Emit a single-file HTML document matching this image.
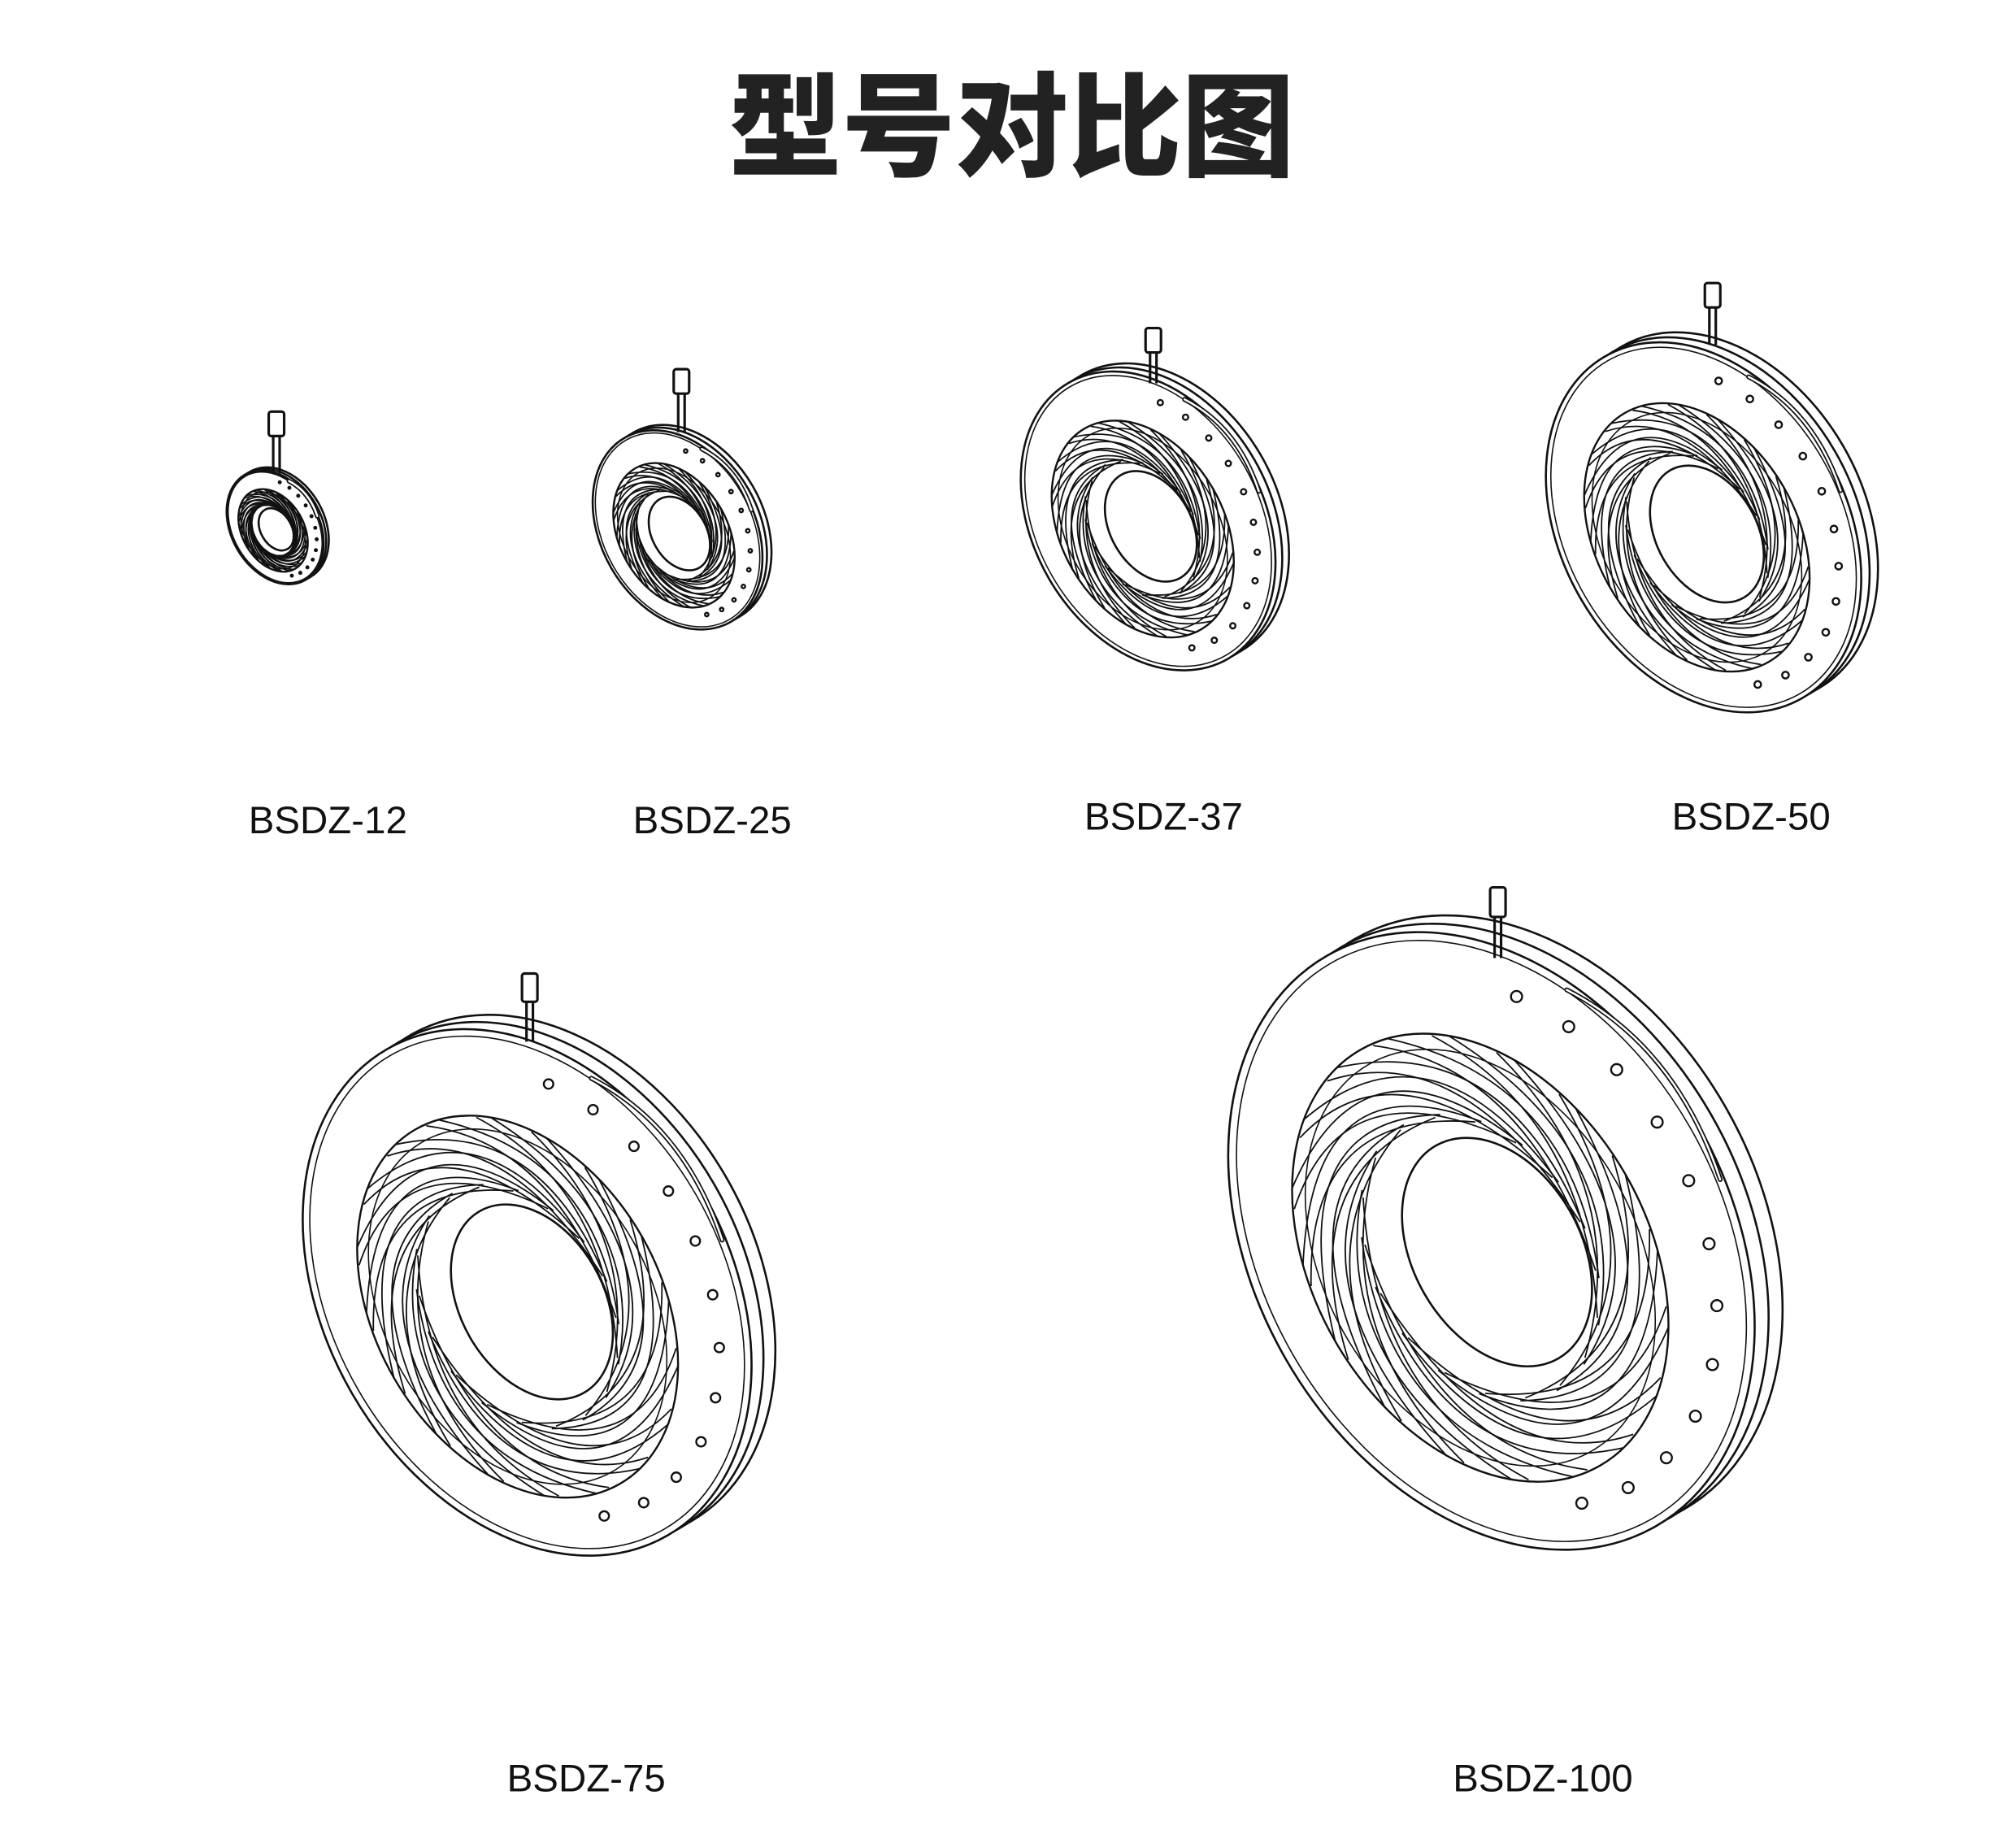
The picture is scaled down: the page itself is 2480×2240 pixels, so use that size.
<!DOCTYPE html>
<html><head><meta charset="utf-8"><style>
html,body{margin:0;padding:0;background:#fff}
svg{display:block}
</style></head><body>
<svg width="2480" height="2240" viewBox="0 0 1568 1416" xmlns="http://www.w3.org/2000/svg">
<defs>
<g id="blade" fill="none" stroke="#111" stroke-width="1.8">
<path d="M1,0 Q0.62,0.92 -0.22,0.6" vector-effect="non-scaling-stroke"/>
<path d="M0.96,0.25 Q0.45,0.9 -0.38,0.5" vector-effect="non-scaling-stroke"/>
</g>
<g id="dev" fill="none" stroke="#111" stroke-width="2.6">
  <g transform="translate(10,-6) rotate(-30)"><ellipse cx="0" cy="0" rx="85" ry="118" fill="#fff" vector-effect="non-scaling-stroke"/></g>
  <g transform="translate(5,-3) rotate(-30)"><ellipse cx="0" cy="0" rx="85" ry="118" fill="#fff" vector-effect="non-scaling-stroke"/></g>
  <g transform="rotate(-30)">
    <ellipse cx="0" cy="0" rx="85" ry="118" fill="#fff" vector-effect="non-scaling-stroke"/>
    <ellipse cx="0" cy="0" rx="82" ry="115" vector-effect="non-scaling-stroke" stroke-width="1.6"/>
  </g>
  <path d="M27,-90 Q66,-70 82,-22" stroke-width="6" stroke-linecap="round" vector-effect="non-scaling-stroke"/>
  <path d="M27,-90 Q66,-70 82,-22" stroke="#fff" stroke-width="2.5" stroke-linecap="round" vector-effect="non-scaling-stroke"/>
  <g transform="translate(-4,6) rotate(-30) scale(60,86)">
    <ellipse cx="0" cy="0" rx="1" ry="1" fill="#fff" stroke-width="2.4" vector-effect="non-scaling-stroke"/>
    <ellipse cx="0" cy="0" rx="0.93" ry="0.93" stroke-width="1.6" vector-effect="non-scaling-stroke"/>
    <use href="#blade"/>
    <use href="#blade" transform="rotate(20)"/>
    <use href="#blade" transform="rotate(40)"/>
    <use href="#blade" transform="rotate(60)"/>
    <use href="#blade" transform="rotate(80)"/>
    <use href="#blade" transform="rotate(100)"/>
    <use href="#blade" transform="rotate(120)"/>
    <use href="#blade" transform="rotate(140)"/>
    <use href="#blade" transform="rotate(160)"/>
    <use href="#blade" transform="rotate(180)"/>
    <use href="#blade" transform="rotate(200)"/>
    <use href="#blade" transform="rotate(220)"/>
    <use href="#blade" transform="rotate(240)"/>
    <use href="#blade" transform="rotate(260)"/>
    <use href="#blade" transform="rotate(280)"/>
    <use href="#blade" transform="rotate(300)"/>
    <use href="#blade" transform="rotate(320)"/>
    <use href="#blade" transform="rotate(340)"/>
  </g>
  <g transform="translate(2,4) rotate(-30)"><ellipse cx="0" cy="0" rx="30" ry="44" fill="#fff" stroke-width="2.6" vector-effect="non-scaling-stroke"/></g>
  <g fill="#fff" stroke="#111" stroke-width="2.4">
    <circle cx="9" cy="-87.6" r="2" vector-effect="non-scaling-stroke"/><circle cx="27.7" cy="-76.8" r="2" vector-effect="non-scaling-stroke"/><circle cx="44.9" cy="-61.4" r="2" vector-effect="non-scaling-stroke"/>
    <circle cx="59.4" cy="-42.6" r="2" vector-effect="non-scaling-stroke"/><circle cx="70.7" cy="-21.6" r="2" vector-effect="non-scaling-stroke"/><circle cx="78" cy="1" r="2" vector-effect="non-scaling-stroke"/>
    <circle cx="80.8" cy="23.2" r="2" vector-effect="non-scaling-stroke"/><circle cx="79.2" cy="44.3" r="2" vector-effect="non-scaling-stroke"/><circle cx="73.1" cy="62.8" r="2" vector-effect="non-scaling-stroke"/>
    <circle cx="62.7" cy="77.7" r="2" vector-effect="non-scaling-stroke"/><circle cx="49" cy="88.4" r="2" vector-effect="non-scaling-stroke"/><circle cx="32.4" cy="94" r="2" vector-effect="non-scaling-stroke"/>
  </g>
</g>
</defs>
<rect width="1568" height="1416" fill="#fff"/>
<text x="787" y="130" text-anchor="middle" font-family="'Liberation Sans','Noto Sans CJK SC',sans-serif" font-weight="900" font-size="88" fill="#222">型号对比图</text>

<use href="#dev" transform="translate(214,410) scale(0.4)"/>
<use href="#dev" transform="translate(527,412) scale(0.7)"/>
<use href="#dev" transform="translate(893,405) scale(1.05)"/>
<use href="#dev" transform="translate(1325,410) scale(1.3)"/>
<use href="#dev" transform="translate(410,1005) scale(1.85)"/>
<use href="#dev" transform="translate(1160,965) scale(2.17)"/>

<g fill="#fff" stroke="#111" stroke-width="2">
  <path d="M212.5,368 V338 M217.5,368 V338"/><rect x="209" y="320" width="12" height="19" rx="2"/>
  <path d="M527.5,336 V305 M532.5,336 V305"/><rect x="524" y="287" width="12" height="19" rx="2"/>
  <path d="M894.5,298 V273 M899.5,298 V273"/><rect x="891" y="255" width="12" height="19" rx="2"/>
  <path d="M1329.5,268 V238 M1334.5,268 V238"/><rect x="1326" y="220" width="12" height="19" rx="2"/>
  <path d="M409.5,810 V778 M414.5,810 V778"/><rect x="406" y="757" width="12" height="22" rx="2"/>
  <path d="M1162.5,745 V712 M1167.5,745 V712"/><rect x="1159" y="690" width="12" height="23" rx="2"/>
</g>

<g font-family="'Liberation Sans',sans-serif" font-size="30" fill="#111" text-anchor="middle">
<text x="255" y="648">BSDZ-12</text>
<text x="554" y="648">BSDZ-25</text>
<text x="905" y="645">BSDZ-37</text>
<text x="1362" y="645">BSDZ-50</text>
<text x="456" y="1393">BSDZ-75</text>
<text x="1200" y="1393">BSDZ-100</text>
</g>
</svg>
</body></html>
